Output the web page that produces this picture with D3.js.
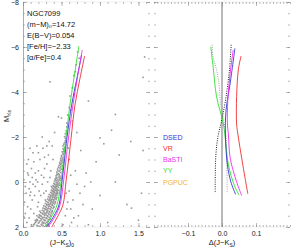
<!DOCTYPE html>
<html>
<head>
<meta charset="utf-8">
<script src="https://cdn.jsdelivr.net/npm/d3@7"></script>
<style>
body{margin:0;background:#fff;}
text{font-family:"Liberation Sans",Arial,sans-serif;}
</style>
</head>
<body>
<svg width="291" height="249"></svg>
<script>
// observed stars [ (J-Ks)0 , M_Ks ]
var obsPoints = [
 [0.13,1.97],[0.18,1.93],[0.22,1.98],[0.26,1.95],[0.30,1.92],[0.11,1.99],[0.34,1.96],
 [0.15,1.86],[0.20,1.83],[0.24,1.88],[0.29,1.84],[0.33,1.87],[0.27,1.81],
 [0.17,1.76],[0.22,1.73],[0.25,1.78],[0.28,1.72],[0.32,1.75],[0.19,1.71],
 [0.18,1.66],[0.23,1.63],[0.27,1.67],[0.31,1.62],[0.35,1.65],[0.25,1.61],
 [0.20,1.56],[0.24,1.53],[0.28,1.57],[0.32,1.54],[0.36,1.52],[0.22,1.51],
 [0.21,1.46],[0.26,1.43],[0.30,1.47],[0.34,1.44],[0.28,1.41],
 [0.23,1.36],[0.27,1.33],[0.31,1.37],[0.35,1.34],[0.38,1.32],
 [0.25,1.26],[0.29,1.23],[0.32,1.28],[0.36,1.24],[0.30,1.21],
 [0.26,1.16],[0.30,1.13],[0.33,1.17],[0.37,1.14],[0.40,1.12],
 [0.27,1.06],[0.31,1.03],[0.34,1.07],[0.38,1.04],[0.33,1.01],
 [0.29,0.96],[0.33,0.93],[0.36,0.97],[0.39,0.94],[0.42,0.92],
 [0.30,0.86],[0.34,0.83],[0.37,0.87],[0.40,0.84],[0.36,0.81],
 [0.32,0.76],[0.35,0.73],[0.38,0.77],[0.41,0.74],[0.43,0.72],
 [0.33,0.66],[0.36,0.63],[0.39,0.67],[0.42,0.64],[0.38,0.61],
 [0.34,0.56],[0.38,0.53],[0.40,0.57],[0.43,0.54],[0.45,0.52],
 [0.36,0.46],[0.39,0.43],[0.41,0.47],[0.44,0.44],[0.40,0.41],
 [0.37,0.36],[0.40,0.33],[0.42,0.37],[0.45,0.34],
 [0.38,0.26],[0.41,0.23],[0.43,0.27],[0.46,0.24],[0.42,0.21],
 [0.39,0.16],[0.42,0.13],[0.44,0.17],[0.47,0.14],
 [0.40,0.06],[0.43,0.03],[0.45,0.07],[0.47,0.04],[0.44,0.01],
 [0.41,-0.04],[0.43,-0.07],[0.46,-0.03],
 [0.42,-0.14],[0.44,-0.17],[0.47,-0.13],[0.49,-0.16],
 [0.43,-0.28],[0.45,-0.32],[0.48,-0.27],[0.46,-0.37],
 [0.44,-0.44],[0.47,-0.47],[0.49,-0.42],
 [0.45,-0.58],[0.48,-0.62],[0.50,-0.57],
 [0.47,-0.74],[0.49,-0.77],[0.51,-0.72],
 [0.48,-0.88],[0.50,-0.92],[0.52,-0.87],
 [0.49,-1.04],[0.51,-1.07],[0.50,-1.18],[0.52,-1.22],
 [0.51,-1.34],[0.53,-1.37],[0.52,-1.48],[0.54,-1.53],
 [0.53,-1.68],[0.55,-1.84],[0.54,-2.02],[0.56,-2.27],[0.57,-2.62],[0.58,-2.98],
 [0.60,-3.31],[0.61,-3.82],[0.64,-4.18],[0.66,-4.73],[0.69,-5.21],[0.71,-5.78],
 [0.14,1.90],[0.19,1.95],[0.24,1.91],[0.28,1.99],[0.32,1.90],[0.16,1.80],[0.21,1.79],[0.26,1.85],
 [0.31,1.79],[0.18,1.69],[0.24,1.69],[0.29,1.70],[0.33,1.68],[0.21,1.59],[0.26,1.58],[0.30,1.60],
 [0.34,1.58],[0.23,1.49],[0.28,1.48],[0.32,1.50],[0.36,1.47],[0.25,1.39],[0.29,1.38],[0.33,1.40],
 [0.37,1.38],[0.27,1.29],[0.31,1.30],[0.34,1.31],[0.38,1.28],[0.28,1.19],[0.32,1.20],[0.35,1.19],
 [0.39,1.18],[0.29,1.09],[0.33,1.10],[0.36,1.09],[0.40,1.08],[0.31,0.99],[0.35,0.99],[0.38,1.00],
 [0.41,0.98],[0.32,0.89],[0.36,0.90],[0.39,0.89],[0.42,0.88],[0.34,0.79],[0.37,0.80],[0.40,0.79],
 [0.43,0.78],[0.35,0.69],[0.38,0.70],[0.41,0.69],[0.44,0.68],[0.36,0.59],[0.39,0.60],[0.42,0.59],
 [0.44,0.58],[0.37,0.49],[0.40,0.50],[0.43,0.49],[0.45,0.48],[0.38,0.39],[0.41,0.40],[0.44,0.39],
 [0.46,0.38],[0.39,0.29],[0.42,0.30],[0.44,0.31],[0.40,0.19],[0.43,0.20],[0.45,0.19],[0.41,0.09],
 [0.44,0.10],[0.46,0.11],[0.42,-0.10],[0.45,-0.09],[0.48,-0.08],[0.43,-0.21],[0.46,-0.22],[0.48,-0.21],
 [0.44,-0.35],[0.47,-0.33],[0.45,-0.51],[0.48,-0.52],[0.46,-0.66],[0.49,-0.67],[0.48,-0.81],[0.50,-0.83],
 [0.49,-0.97],[0.51,-0.98],[0.50,-1.12],[0.52,-1.28],[0.53,-1.43],[0.52,-1.60],[0.54,-1.75],[0.55,-1.95],
 [0.55,-2.15],[0.57,-2.45],
 // field / scattered
 [0.05,1.8],[0.02,0.9],[0.08,0.3],[0.12,-0.2],[0.10,1.2],[0.15,0.6],[0.20,-0.5],[0.25,0.1],
 [0.18,1.5],[0.03,1.4],[0.22,-1.0],[0.28,-0.6],[0.30,0.4],[0.06,-0.4],[0.14,-0.9],[0.26,-1.5],
 [0.33,-1.2],[0.09,0.0],[0.20,0.9],[0.11,1.9],[0.35,-0.2],[0.04,0.5],[0.17,-0.1],[0.13,-1.3],
 [0.38,-1.6],[0.31,-0.8],[0.07,-1.0],[0.21,0.4],[0.07,-0.31],[0.16,0.2],[0.24,-0.3],[0.12,0.8],
 [0.19,1.1],[0.28,-1.1],
 [0.02,1.6],[0.06,1.1],[0.09,0.6],[0.03,0.2],[0.11,-0.6],[0.16,-0.4],[0.19,0.0],[0.23,0.6],
 [0.14,1.4],[0.08,1.6],[0.27,-0.2],[0.32,0.0],[0.29,0.8],[0.36,-0.5],[0.39,-1.0],[0.34,-1.8],
 [0.18,-1.6],[0.09,-1.5],[0.25,-2.0],[0.41,-2.2],[0.01,-0.1],[0.13,0.1],[0.22,1.3],[0.05,-0.8],
 [0.20,-1.3],[0.16,1.7],[0.27,0.5],[0.37,0.2],[0.10,0.45],[0.31,-1.6],
 [0.55,1.5],[0.58,0.9],[0.52,1.9],[0.60,0.4],[0.57,1.2],[0.66,1.6],[0.62,-0.3],[0.59,-1.5],[0.56,0.5],
 [0.65,0.8],[0.72,1.5],[0.68,-0.5],[0.80,0.2],[0.90,1.2],[0.75,-1.4],[1.00,0.6],[1.10,1.8],
 [0.95,-0.9],[1.20,0.0],[1.35,1.0],[1.41,1.16],[1.54,0.5],[1.56,-1.4],[1.40,-1.8],[1.25,-1.2],
 [0.85,1.9],[0.62,1.2],[0.70,0.1],[0.60,-1.0],[0.78,1.0],[1.05,-1.7],[1.50,1.7],[0.70,-2.2],
 [1.00,-1.96],[1.15,-2.3],[0.63,1.8],[0.82,-0.4],[0.74,0.5],[0.88,0.0],
 [0.35,-4.45],[1.56,-4.65],[1.58,-5.56],[0.50,-2.84],[0.46,-2.9],[0.62,-3.2],[0.64,-2.7],
 [0.66,-3.9],[0.68,-4.9],[0.73,-5.5],[0.85,-3.6],[1.2,-3.0]
];

// isochrones [ (J-Ks)0 , M_Ks ]
var dsedIso  = [[0.762,-5.64],[0.70,-4.6],[0.632,-3.42],[0.571,-1.96],[0.539,-0.98],[0.506,0],[0.468,1.02],[0.403,1.5],[0.308,2.0]];
var vrIso    = [[0.80,-5.6],[0.74,-4.6],[0.675,-3.42],[0.625,-1.96],[0.592,-0.98],[0.558,0],[0.519,1.02],[0.455,1.5],[0.373,2.0]];
var bastiIso = [[0.77,-5.87],[0.71,-4.7],[0.649,-3.42],[0.591,-1.96],[0.558,-0.98],[0.526,0],[0.481,1.02],[0.422,1.5],[0.325,2.0]];
var yyIso    = [[0.727,-6.04],[0.67,-4.8],[0.61,-3.42],[0.558,-1.96],[0.526,-0.98],[0.494,0],[0.442,1.02],[0.377,1.5],[0.286,2.0]];

// colour differences [ Δ(J-Ks) , M_Ks ]
var dsedRes  = [[0.038,-5.94],[0.024,-4.39],[0.012,-3.2],[0.010,-2.09],[0.016,-0.76],[0.026,-0.01],[0.040,0.55]];
var vrRes    = [[0.056,-5.6],[0.048,-4.98],[0.043,-3.79],[0.043,-2.58],[0.048,-2.0],[0.058,-1.05],[0.068,-0.16],[0.076,0.53]];
var bastiRes = [[0.033,-5.87],[0.024,-4.83],[0.017,-3.64],[0.016,-2.58],[0.019,-2.09],[0.024,-1.07],[0.043,-0.01],[0.058,0.61]];
var yyRes    = [[-0.033,-6.01],[-0.026,-5.1],[-0.016,-3.79],[0.004,-2.58],[0.019,-0.76],[0.035,0.1],[0.050,0.58]];
var errHigh  = [[0.027,-6.1],[0.022,-5.0],[0.012,-3.8],[0.0,-2.8],[-0.012,-2.0],[-0.018,-1.2],[-0.02,0.0],[-0.02,0.5]];
var errLow   = [[-0.029,-6.1],[-0.027,-5.6],[-0.018,-5.1],[-0.010,-4.5],[-0.004,-3.5],[0.004,-2.8],[0.012,-2.0],[0.014,-1.0],[0.015,0.0],[0.015,0.5]];

var modelNames = ["DSED","VR","BaSTI","YY","PGPUC"];
var legendMag = [-2,-1.5,-1,-0.5,0];
var infoLines = ["NGC7099","(m\u2212M)\u2080=14.72","E(B\u2212V)=0.054","[Fe/H]=\u22122.33","[\u03b1/Fe]=0.4"];
var leftTicks = [0,0.5,1.0,1.5];
var rightTicks = [-0.1,0,0.1];
var magTicks = [-8,-6,-4,-2,0,2];

var col = {DSED:"#3434d6",VR:"#ee3030",BaSTI:"#ee30ee",YY:"#2ee02e",PGPUC:"#f2b530"};

var svg = d3.select("svg");
var xL = d3.scaleLinear().domain([0,1.65]).range([23,150]);
var xR = d3.scaleLinear().domain([-0.2,0.2]).range([154,290]);
var y = d3.scaleLinear().domain([-8,2]).range([2,227]);

svg.append("defs").append("clipPath").attr("id","cl")
  .append("rect").attr("x",23).attr("y",2).attr("width",127).attr("height",225);
svg.select("defs").append("clipPath").attr("id","cr")
  .append("rect").attr("x",154).attr("y",2).attr("width",136).attr("height",225);

// frames + ticks for one panel
function frame(x, major, minor, fmt){
  var x0 = x.range()[0], x1 = x.range()[1];
  var g = svg.append("g").attr("class","frame");
  // only faint top/bottom lines, sides are just ticks
  [2,227].forEach(yy=>{
    g.append("line").attr("x1",x0).attr("x2",x1).attr("y1",yy).attr("y2",yy)
      .attr("stroke","#dcdcdc").attr("stroke-width",0.5);
  });
  var yMinor = d3.range(-8,2.01,0.5);
  // bottom
  g.append("g").attr("transform","translate(0,227)")
    .call(d3.axisBottom(x).tickValues(minor).tickSize(-2).tickFormat(""));
  g.append("g").attr("transform","translate(0,227)")
    .call(d3.axisBottom(x).tickValues(major).tickSize(-4).tickPadding(4).tickFormat(fmt));
  // top
  g.append("g").attr("transform","translate(0,2)")
    .call(d3.axisTop(x).tickValues(minor).tickSize(-2).tickFormat(""));
  g.append("g").attr("transform","translate(0,2)")
    .call(d3.axisTop(x).tickValues(major).tickSize(-4).tickFormat(""));
  // left/right
  g.append("g").attr("transform","translate("+x0+",0)")
    .call(d3.axisLeft(y).tickValues(yMinor).tickSize(-2).tickFormat(""));
  g.append("g").attr("transform","translate("+x0+",0)")
    .call(d3.axisLeft(y).tickValues(magTicks).tickSize(-4).tickFormat(""));
  g.append("g").attr("transform","translate("+x1+",0)")
    .call(d3.axisRight(y).tickValues(yMinor).tickSize(-2).tickFormat(""));
  g.append("g").attr("transform","translate("+x1+",0)")
    .call(d3.axisRight(y).tickValues(magTicks).tickSize(-4).tickFormat(""));
  g.selectAll(".domain").remove();
  g.selectAll(".tick line").attr("stroke","#8c8c8c").attr("stroke-width",0.6);
  g.selectAll(".tick text").attr("font-size",7).attr("fill","#222")
    .attr("font-family","Liberation Sans, Arial, sans-serif");
  return g;
}

frame(xL, leftTicks, d3.range(0,1.651,0.1), d3.format(".1f"));
frame(xR, rightTicks, d3.range(-0.2,0.2001,0.01), d3.format(".1f"));

// y labels on left panel
var ya = svg.append("g").attr("transform","translate(23,0)")
  .call(d3.axisLeft(y).tickValues(magTicks).tickSize(0).tickPadding(4).tickFormat(d3.format("d")));
ya.select(".domain").attr("stroke","#888").attr("stroke-width",0.7);
ya.selectAll("text").attr("font-size",7).attr("fill","#222")
  .attr("font-family","Liberation Sans, Arial, sans-serif");

// scatter
svg.append("g").attr("clip-path","url(#cl)")
  .selectAll("rect").data(obsPoints).enter().append("rect")
  .attr("x",d=>xL(d[0])-0.8).attr("y",d=>y(d[1])-0.8)
  .attr("width",1.6).attr("height",1.6).attr("fill","#999");

var lineL = d3.line().x(d=>xL(d[0])).y(d=>y(d[1])).curve(d3.curveCatmullRom);
var lineR = d3.line().x(d=>xR(d[0])).y(d=>y(d[1])).curve(d3.curveCatmullRom);

var isoSets = [["YY",yyIso],["DSED",dsedIso],["BaSTI",bastiIso],["VR",vrIso]];
var gl = svg.append("g").attr("clip-path","url(#cl)");
isoSets.forEach(s=>{
  gl.append("path").attr("d",lineL(s[1])).attr("fill","none")
    .attr("stroke",col[s[0]]).attr("stroke-width",0.9);
});

// right panel
var gr = svg.append("g").attr("clip-path","url(#cr)");
gr.append("line").attr("x1",xR(0)).attr("x2",xR(0)).attr("y1",2).attr("y2",227)
  .attr("stroke","#8a8a8a").attr("stroke-width",1.2);
gr.append("path").attr("d",lineR(errLow)).attr("fill","none")
  .attr("stroke","#a0a0a0").attr("stroke-width",1).attr("stroke-dasharray","1,1.3");
gr.append("path").attr("d",lineR(errHigh)).attr("fill","none")
  .attr("stroke","#222").attr("stroke-width",1).attr("stroke-dasharray","1,1.3");
var resSets = [["YY",yyRes],["DSED",dsedRes],["BaSTI",bastiRes],["VR",vrRes]];
resSets.forEach(s=>{
  gr.append("path").attr("d",lineR(s[1])).attr("fill","none")
    .attr("stroke",col[s[0]]).attr("stroke-width",0.9);
});

// legend
svg.append("g").selectAll("text").data(modelNames).enter().append("text")
  .attr("x",163).attr("y",(d,i)=>y(legendMag[i])+2.5)
  .attr("font-size",7).attr("fill",d=>col[d]).text(d=>d);

// info text
svg.append("g").selectAll("text").data(infoLines).enter().append("text")
  .attr("x",27).attr("y",(d,i)=>16+i*11)
  .attr("font-size",7.5).attr("fill","#111").text(d=>d);

// axis titles
var t1 = svg.append("text").attr("x",62).attr("y",245).attr("text-anchor","middle")
  .attr("font-size",7.5).attr("fill","#111");
t1.append("tspan").text("(J\u2212K");
t1.append("tspan").attr("font-size",5).attr("dy",1.5).text("S");
t1.append("tspan").attr("dy",-1.5).text(")");
t1.append("tspan").attr("font-size",5).attr("dy",1.5).text("0");

var t2 = svg.append("text").attr("x",222).attr("y",245).attr("text-anchor","middle")
  .attr("font-size",7.5).attr("fill","#111");
t2.append("tspan").text("\u0394(J\u2212K");
t2.append("tspan").attr("font-size",5).attr("dy",1.5).text("S");
t2.append("tspan").attr("dy",-1.5).text(")");

var t3 = svg.append("text").attr("transform","translate(9,116) rotate(-90)")
  .attr("text-anchor","middle").attr("font-size",7.5).attr("fill","#111");
t3.append("tspan").text("M");
t3.append("tspan").attr("font-size",5).attr("dy",1.5).text("Ks");
</script>
</body>
</html>
